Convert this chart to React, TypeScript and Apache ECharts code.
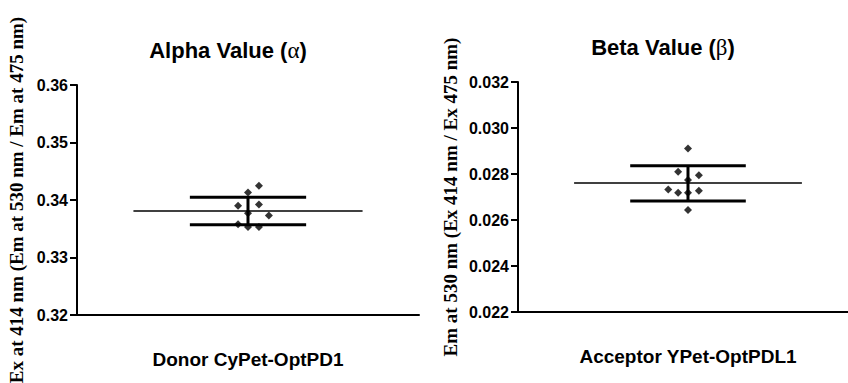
import React, { useEffect, useRef } from 'react';
import * as echarts from 'echarts';

// ---- data ----
const alphaCategory = ['Donor CyPet-OptPD1'];
const betaCategory = ['Acceptor YPet-OptPDL1'];

const alphaValues = [0.3425, 0.3413, 0.339, 0.3392, 0.3377, 0.3373, 0.3358, 0.3353, 0.3353];
const alphaJitter = [0.064, 0, -0.058, 0.064, 0, 0.122, -0.058, 0, 0.064];
const alphaStats = [0.3381, 0.3405, 0.3357]; // mean, upper, lower

const betaValues = [0.02911, 0.0281, 0.02795, 0.02774, 0.02733, 0.02719, 0.02727, 0.02719, 0.02644];
const betaJitter = [0, -0.058, 0.064, 0, -0.116, -0.058, 0.064, 0, 0];
const betaStats = [0.02761, 0.02836, 0.02683]; // mean, upper, lower

const alphaTicks = [0.32, 0.36, 0.01]; // min, max, interval
const betaTicks = [0.022, 0.032, 0.002];

const alphaTitle = 'Alpha Value (';
const betaTitle = 'Beta Value (';
const alphaYName = 'Ex at 414 nm (Em at 530 nm / Em at 475 nm)';
const betaYName = 'Em at 530 nm (Ex 414 nm / Ex 475 nm)';

const MEAN_HALF = 0.67;
const CAP_HALF = 0.34;
const SANS = 'Arial, "Liberation Sans", sans-serif';
const SERIF = '"Times New Roman", "Liberation Serif", serif';

function panelSeries(xi: number, yi: number, values: number[], jitter: number[], stats: number[]) {
  const [mean, upper, lower] = stats;
  const base = { xAxisIndex: xi, yAxisIndex: yi, symbol: 'none', silent: true };
  return [
    { ...base, type: 'line', data: [[-MEAN_HALF, mean], [MEAN_HALF, mean]], lineStyle: { color: '#000', width: 1.5 } },
    { ...base, type: 'line', data: [[-CAP_HALF, upper], [CAP_HALF, upper]], lineStyle: { color: '#000', width: 3 } },
    { ...base, type: 'line', data: [[-CAP_HALF, lower], [CAP_HALF, lower]], lineStyle: { color: '#000', width: 3 } },
    { ...base, type: 'line', data: [[0, lower], [0, upper]], lineStyle: { color: '#000', width: 3 } },
    {
      type: 'scatter', xAxisIndex: xi, yAxisIndex: yi, symbol: 'diamond', symbolSize: 8,
      itemStyle: { color: '#000' },
      data: values.map((v, i) => [jitter[i], v]),
    },
  ];
}

function catAxis(grid: number, data: string[]) {
  return {
    type: 'category', gridIndex: grid, data, boundaryGap: true,
    axisLine: { onZero: false, lineStyle: { color: '#000', width: 2 } },
    axisTick: { alignWithLabel: true, length: 7, lineStyle: { color: '#000', width: 2 } },
    axisLabel: { color: '#000', fontFamily: SANS, fontWeight: 'bold', fontSize: 19, margin: 35 },
  };
}

function valAxisX(grid: number) {
  return { type: 'value', gridIndex: grid, min: -1, max: 1, show: false, axisLine: { onZero: false } };
}

function valAxisY(grid: number, ticks: number[], digits: number, name: string, gap: number) {
  return {
    type: 'value', gridIndex: grid, min: ticks[0], max: ticks[1], interval: ticks[2],
    name, nameLocation: 'middle', nameGap: gap, nameRotate: 90,
    nameTextStyle: { color: '#000', fontFamily: SERIF, fontWeight: 'bold', fontSize: 19 },
    axisLine: { show: true, onZero: false, lineStyle: { color: '#000', width: 2 } },
    axisTick: { show: true, length: 7, lineStyle: { color: '#000', width: 2 } },
    splitLine: { show: false },
    axisLabel: {
      color: '#000', fontFamily: SANS, fontWeight: 'bold', fontSize: 16, margin: 9,
      formatter: (v: number) => v.toFixed(digits),
    },
  };
}

function titleText(x: number, y: number, text: string, greek: string) {
  return {
    type: 'text', x, y, silent: true,
    style: {
      text: text + '{g|' + greek + '})',
      fill: '#000', fontFamily: SANS, fontWeight: 'bold', fontSize: 22,
      align: 'center', verticalAlign: 'middle',
      rich: { g: { fontFamily: SERIF, fontWeight: 'normal', fontSize: 23, fill: '#000' } },
    },
  };
}

export default function App() {
  const ref = useRef<HTMLDivElement>(null);
  useEffect(() => {
    document.body.style.margin = '0';
    const chart = echarts.init(ref.current!, null, { renderer: 'svg' });
    chart.setOption({
      animation: false,
      backgroundColor: '#fff',
      grid: [
        { left: 77, top: 85, width: 342, height: 230, containLabel: false, outerBoundsMode: 'none' },
        { left: 518, top: 82, width: 340, height: 230, containLabel: false, outerBoundsMode: 'none' },
      ],
      xAxis: [catAxis(0, alphaCategory), valAxisX(0), catAxis(1, betaCategory), valAxisX(1)],
      yAxis: [
        valAxisY(0, alphaTicks, 2, alphaYName, 51),
        valAxisY(1, betaTicks, 3, betaYName, 58),
      ],
      graphic: [titleText(228, 50, alphaTitle, 'α'), titleText(663, 47, betaTitle, 'β')],
      series: [
        ...panelSeries(1, 0, alphaValues, alphaJitter, alphaStats),
        ...panelSeries(3, 1, betaValues, betaJitter, betaStats),
      ],
    });
    return () => chart.dispose();
  }, []);
  return <div ref={ref} style={{ width: 848, height: 383, overflow: 'hidden' }} />;
}
